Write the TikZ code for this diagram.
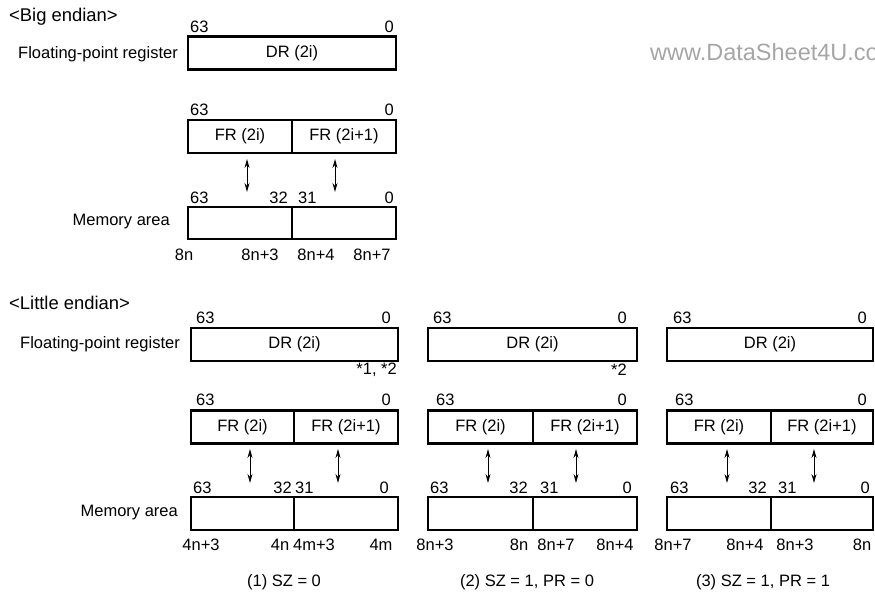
\documentclass[tikz,border=0pt]{standalone}
\usepackage{fontspec}
\setmainfont{Liberation Sans}
\usetikzlibrary{arrows.meta}

\begin{document}
\begin{tikzpicture}[x=1pt,y=-1pt,
  font=\fontsize{16.5}{20}\selectfont,
  reg/.style={draw,line width=2.3pt,inner sep=0,minimum height=33pt},
  full/.style={reg,minimum width=208pt},
  half/.style={reg,minimum width=104pt},
  lbl/.style={inner sep=0},
  ttl/.style={lbl,anchor=west,font=\fontsize{18.4}{22}\selectfont},
  link/.style={{Stealth[length=9pt,width=5pt]}-{Stealth[length=9pt,width=5pt]},line width=1pt}]
\useasboundingbox (0,0) rectangle (875,592);
% watermark
\node[lbl,anchor=west,text=black!35,font=\fontsize{23.5}{26}\selectfont] (wm) at (650,52) {www.DataSheet4U.co};
% big endian
\node[ttl] (bigttl) at (9,17) {<Big endian>};
\node[lbl,anchor=east] (bigfpr) at (178,54) {Floating-point register};
\node[full] (bdr) at (292,53) {DR (2i)};
\node[lbl,anchor=west] (bdr63) at (190,27) {63};
\node[lbl,anchor=east] (bdr0) at (394,27) {0};
\node[half] (bfr0) at (240,136.5) {FR (2i)};
\node[half] (bfr1) at (344,136.5) {FR (2i+1)};
\node[lbl,anchor=west] (bfr63) at (190,110) {63};
\node[lbl,anchor=east] (bfr00) at (394,110) {0};
\node[lbl,anchor=east] (bmema) at (170,222) {Memory area};
\node[half,minimum height=32pt] (bm0) at (240,223) {};
\node[half,minimum height=32pt] (bm1) at (344,223) {};
\node[lbl,anchor=west] (bm63) at (190,198) {63};
\node[lbl,anchor=east] (bm32) at (288,198) {32};
\node[lbl,anchor=west] (bm31) at (298,198) {31};
\node[lbl,anchor=east] (bm00) at (394,198) {0};
\node[lbl] (ba0) at (184,255) {8n};
\node[lbl] (ba3) at (260,255) {8n+3};
\node[lbl] (ba4) at (316,255) {8n+4};
\node[lbl] (ba7) at (372,255) {8n+7};
\coordinate (bt0) at (247,159); \coordinate (bb0) at (247,192);
\coordinate (bt1) at (335,159); \coordinate (bb1) at (335,192);
\draw[link] (bt0) -- (bb0);
\draw[link] (bt1) -- (bb1);
% little endian
\node[ttl] (lttl) at (9,303) {<Little endian>};
\node[lbl,anchor=east] (lfpr) at (180,344) {Floating-point register};
\node[lbl,anchor=east] (lmema) at (178,513) {Memory area};
% (1) SZ = 0
\node[full,minimum width=207pt] (adr) at (294.5,344.5) {DR (2i)};
\node[lbl,anchor=west] (adr63) at (196,318) {63};
\node[lbl,anchor=east] (adr0) at (391,318) {0};
\node[lbl,anchor=east] (anote) at (397,370) {*1, *2};
\node[reg,minimum width=103pt] (afr0) at (242.5,427) {FR (2i)};
\node[half] (afr1) at (346,427) {FR (2i+1)};
\node[lbl,anchor=west] (afr63) at (196,400) {63};
\node[lbl,anchor=east] (afr00) at (391,400) {0};
\node[reg,minimum width=103pt] (am0) at (242.5,513.5) {};
\node[half] (am1) at (346,513.5) {};
\node[lbl,anchor=west] (am63) at (193,488) {63};
\node[lbl,anchor=east] (am32) at (292,488) {32};
\node[lbl,anchor=west] (am31) at (295,488) {31};
\node[lbl,anchor=east] (am00) at (389,488) {0};
\node[lbl] (aa0) at (201,545) {4n+3};
\node[lbl] (aa1) at (280,545) {4n};
\node[lbl] (aa2) at (314,545) {4m+3};
\node[lbl] (aa3) at (381,545) {4m};
\node[lbl] (acap) at (284,582) {(1) SZ = 0};
\coordinate (at0) at (250,449); \coordinate (ab0) at (250,483);
\coordinate (at1) at (338,449); \coordinate (ab1) at (338,483);
\draw[link] (at0) -- (ab0);
\draw[link] (at1) -- (ab1);
% (2) SZ = 1, PR = 0
\node[full,minimum width=209pt] (cdr) at (532.5,344.5) {DR (2i)};
\node[lbl,anchor=west] (cdr63) at (433,318) {63};
\node[lbl,anchor=east] (cdr0) at (627,318) {0};
\node[lbl,anchor=east] (cnote) at (627,370) {*2};
\node[reg,minimum width=105pt] (cfr0) at (480.5,427) {FR (2i)};
\node[half] (cfr1) at (585,427) {FR (2i+1)};
\node[lbl,anchor=west] (cfr63) at (436,400) {63};
\node[lbl,anchor=east] (cfr00) at (627,400) {0};
\node[reg,minimum width=105pt] (cm0) at (480.5,513.5) {};
\node[half] (cm1) at (585,513.5) {};
\node[lbl,anchor=west] (cm63) at (430,488) {63};
\node[lbl,anchor=east] (cm32) at (528,488) {32};
\node[lbl,anchor=west] (cm31) at (540,488) {31};
\node[lbl,anchor=east] (cm00) at (632,488) {0};
\node[lbl] (ca0) at (435,545) {8n+3};
\node[lbl] (ca1) at (519,545) {8n};
\node[lbl] (ca2) at (556,545) {8n+7};
\node[lbl] (ca3) at (615,545) {8n+4};
\node[lbl] (ccap) at (527,582) {(2) SZ = 1, PR = 0};
\coordinate (ct0) at (488,449); \coordinate (cb0) at (488,483);
\coordinate (ct1) at (576,449); \coordinate (cb1) at (576,483);
\draw[link] (ct0) -- (cb0);
\draw[link] (ct1) -- (cb1);
% (3) SZ = 1, PR = 1
\node[full,minimum width=206pt] (ddr) at (770,344.5) {DR (2i)};
\node[lbl,anchor=west] (ddr63) at (673,318) {63};
\node[lbl,anchor=east] (ddr0) at (867,318) {0};
\node[half] (dfr0) at (719,427) {FR (2i)};
\node[reg,minimum width=102pt] (dfr1) at (822,427) {FR (2i+1)};
\node[lbl,anchor=west] (dfr63) at (675,400) {63};
\node[lbl,anchor=east] (dfr00) at (867,400) {0};
\node[half] (dm0) at (719,513.5) {};
\node[reg,minimum width=102pt] (dm1) at (822,513.5) {};
\node[lbl,anchor=west] (dm63) at (670,488) {63};
\node[lbl,anchor=east] (dm32) at (767,488) {32};
\node[lbl,anchor=west] (dm31) at (778,488) {31};
\node[lbl,anchor=east] (dm00) at (870,488) {0};
\node[lbl] (da0) at (673,545) {8n+7};
\node[lbl] (da1) at (745,545) {8n+4};
\node[lbl] (da2) at (795,545) {8n+3};
\node[lbl] (da3) at (862,545) {8n};
\node[lbl] (dcap) at (763,582) {(3) SZ = 1, PR = 1};
\coordinate (dt0) at (727,449); \coordinate (db0) at (727,483);
\coordinate (dt1) at (814,449); \coordinate (db1) at (814,483);
\draw[link] (dt0) -- (db0);
\draw[link] (dt1) -- (db1);
\end{tikzpicture}
\end{document}
